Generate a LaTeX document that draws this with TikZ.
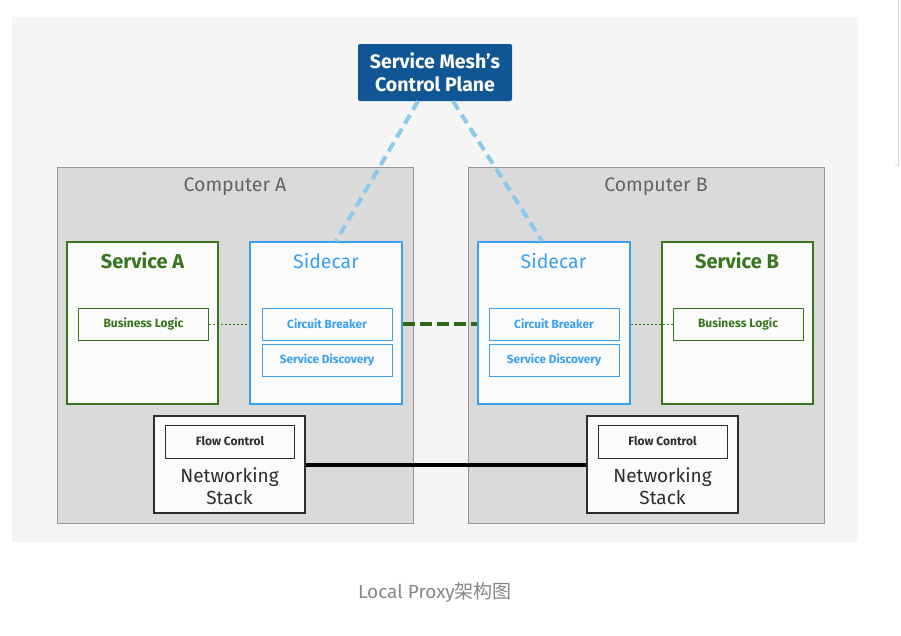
\documentclass[tikz,border=0pt]{standalone}
\usepackage{fontspec}
\setmainfont{Fira Sans}
\newfontfamily\cjkfont{Noto Sans CJK SC}
\definecolor{panelbg}{RGB}{245,245,245}
\definecolor{cpblue}{RGB}{16,86,148}
\definecolor{svgreen}{RGB}{56,118,29}
\definecolor{scblue}{RGB}{58,160,240}
\definecolor{linkblue}{RGB}{140,202,236}
\definecolor{compfill}{RGB}{218,218,218}
\definecolor{compline}{RGB}{150,150,150}
\definecolor{titlegray}{RGB}{100,100,100}
\definecolor{innerfill}{RGB}{251,251,251}
\definecolor{capgray}{RGB}{135,135,135}
\definecolor{nsline}{RGB}{45,45,45}
\tikzset{
  compbox/.style={draw=compline, line width=1pt, fill=compfill, minimum width=356pt, minimum height=356pt, inner sep=0pt},
  svcbox/.style={draw=svgreen, line width=2pt, fill=innerfill, minimum width=151pt, minimum height=162pt, inner sep=0pt},
  scbox/.style={draw=scblue, line width=2pt, fill=innerfill, minimum width=152pt, minimum height=162pt, inner sep=0pt},
  blbox/.style={draw=svgreen, line width=1pt, fill=innerfill, minimum width=130pt, minimum height=32pt, inner sep=0pt, text=svgreen, font=\bfseries\fontsize{12}{14}\selectfont},
  cbbox/.style={draw=scblue, line width=1pt, fill=innerfill, minimum width=130pt, minimum height=32pt, inner sep=0pt, text=scblue, font=\bfseries\fontsize{11.8}{14}\selectfont},
  nsbox/.style={draw=nsline, line width=1.2pt, fill=innerfill, minimum width=151pt, minimum height=97pt, inner sep=0pt},
  fcbox/.style={draw=nsline, line width=1pt, fill=innerfill, minimum width=129pt, minimum height=33pt, inner sep=0pt, text=nsline, font=\bfseries\fontsize{12}{14}\selectfont},
  comptitle/.style={text=titlegray, font=\fontsize{19.5}{22}\selectfont},
  svctitle/.style={text=svgreen, font=\bfseries\fontsize{20}{23}\selectfont},
  sctitle/.style={text=scblue, font=\fontsize{19.5}{23}\selectfont},
  nstext/.style={text=nsline, align=center, font=\fontsize{19}{22.5}\selectfont},
  cplink/.style={draw=linkblue, line width=4pt, dash pattern=on 10pt off 6pt},
  sclink/.style={draw=svgreen!85!black, line width=4pt, dash pattern=on 12pt off 5pt},
  bllink/.style={draw=svgreen, line width=1pt, dash pattern=on 2pt off 2pt},
  nslink/.style={draw=black, line width=4pt},
}
\begin{document}
\begin{tikzpicture}[x=1pt,y=-1pt]
\useasboundingbox[fill=white] (0,0) rectangle (901,635);
% background panel
\fill[panelbg] (12,17) rectangle (858,542);
% faint UI line on the right
\draw[draw=black!15, line width=0.8pt] (898,0) -- (898,165) -- (895,165);
% computers
\node[compbox] (compA) at (235,345) {};
\node[compbox] (compB) at (646,345) {};
\node[comptitle] (tA) at (235,186.5) {Computer A};
\node[comptitle] (tB) at (656,186.5) {Computer B};
% control plane
\node[fill=cpblue, rounded corners=2pt, minimum width=154pt, minimum height=57pt, inner sep=0pt,
      text=white, align=center, font=\bfseries\fontsize{19.5}{23}\selectfont] (cp) at (435,72.5)
      {Service Mesh’s\\Control Plane};
% services and sidecars
\node[svcbox] (svcA) at (142.5,323) {};
\node[svctitle] (svcAt) at (142.5,261) {Service A};
\node[blbox] (blA) at (143.5,324) {Business Logic};
\node[scbox] (scA) at (326,323) {};
\node[sctitle] (scAt) at (326,261) {Sidecar};
\node[cbbox] (cbA) at (327,324) {Circuit Breaker};
\node[cbbox] (sdA) at (327,360) {Service Discovery};
\node[scbox] (scB) at (553.5,323) {};
\node[sctitle] (scBt) at (553.5,261) {Sidecar};
\node[cbbox] (cbB) at (554,324) {Circuit Breaker};
\node[cbbox] (sdB) at (554,360) {Service Discovery};
\node[svcbox] (svcB) at (737,323) {};
\node[svctitle] (svcBt) at (737,261) {Service B};
\node[blbox] (blB) at (738,324) {Business Logic};
% networking stacks
\node[nsbox] (nsA) at (229.5,464.5) {};
\node[fcbox] (fcA) at (230,441.5) {Flow Control};
\node[nstext] (nsAt) at (229.5,486) {Networking\\Stack};
\node[nsbox] (nsB) at (662.5,464.5) {};
\node[fcbox] (fcB) at (662.5,441.5) {Flow Control};
\node[nstext] (nsBt) at (662.5,486) {Networking\\Stack};
% connectors
\draw[bllink] (blA.east) -- (blA.east -| scA.west);
\draw[bllink] (blB.west) -- (blB.west -| scB.east);
\draw[sclink] (cbA.east -| scA.east) -- (cbA.east -| scB.west);
\draw[nslink] (nsA.east) -- (nsB.west);
\coordinate (cpL) at ([xshift=-17pt]cp.south);
\coordinate (cpR) at ([xshift=18pt]cp.south);
\coordinate (scAin) at ([xshift=10pt]scA.north);
\coordinate (scBin) at ([xshift=-11.5pt]scB.north);
\draw[cplink] (cpL) -- (scAin);
\draw[cplink] (cpR) -- (scBin);
% caption
\node[text=capgray, font=\fontsize{19}{22}\selectfont] (cap) at (435,593) {Local Proxy{\cjkfont 架构图}};
\end{tikzpicture}
\end{document}
